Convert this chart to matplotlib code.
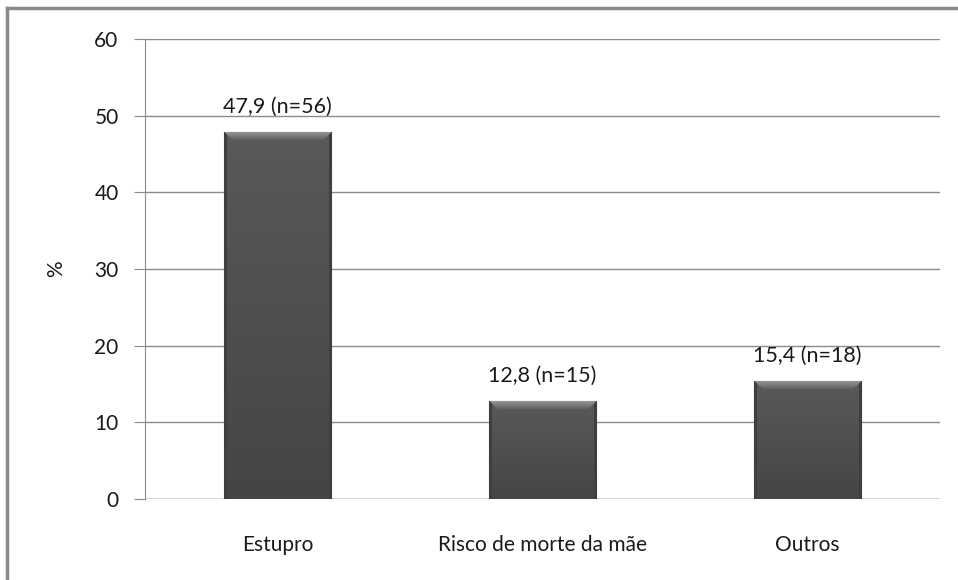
import numpy as np
import matplotlib.pyplot as plt
from matplotlib.lines import Line2D

categories = ['Estupro', 'Risco de morte da mãe', 'Outros']
percent = [47.9, 12.8, 15.4]
counts = [56, 15, 18]
yticks = [0, 10, 20, 30, 40, 50, 60]

plt.rcParams['font.family'] = ['Lato', 'DejaVu Sans']

fig = plt.figure(figsize=(9.58, 5.80), dpi=100)
ax = fig.add_axes([145 / 958, 1 - 499 / 580, 795 / 958, 460 / 580])

x = np.arange(len(categories))
bars = ax.bar(x, percent, width=0.405, color='#4a4a4a', edgecolor='#3a3a3a', linewidth=0.8, zorder=3)

px_per_unit = 460 / 60


def bevel_image(h_units, w_px=108):
    h_px = max(int(round(h_units * px_per_unit)), 10)
    rows = np.arange(h_px)[:, None]      # 0 = top
    cols = np.arange(w_px)[None, :]
    # body: slightly lighter near top, darker near bottom
    body = 0.35 - 0.08 * (rows / h_px)
    img = np.broadcast_to(body, (h_px, w_px)).copy()
    # top bevel strip (trapezoid)
    bev = 9
    dist_side = np.minimum(cols, w_px - 1 - cols)
    top = (rows < bev) & (dist_side >= rows)
    img[top] = (0.60 - 0.24 * (rows / bev) + 0 * cols)[top]
    # dark side edges
    side = (dist_side < 3) & ~top
    img[side] = 0.25
    img = np.clip(img, 0, 1)
    return np.dstack([img, img, img])


for b in bars:
    bx, by = b.get_x(), b.get_y()
    w, h = b.get_width(), b.get_height()
    im = ax.imshow(bevel_image(h), extent=[bx, bx + w, by, by + h], aspect='auto',
                   interpolation='bilinear', zorder=3.5)
    im.set_clip_path(b)

for xi, p, n in zip(x, percent, counts):
    ax.text(xi, p + 2.0, f"{p:.1f}".replace('.', ',') + f" (n={n})", ha='center', va='bottom',
            fontsize=15.5, color='#1a1a1a')

ax.set_xlim(-0.5, 2.5)
ax.set_ylim(0, 60)
ax.set_yticks(yticks)
ax.set_xticks(x)
ax.set_xticklabels(categories)
ax.yaxis.grid(True, color='#8c8c8c', linewidth=1)
ax.set_axisbelow(True)
for s in ['top', 'right', 'bottom']:
    ax.spines[s].set_visible(False)
ax.spines['left'].set_color('#8c8c8c')
ax.axhline(0, color='#8c8c8c', linewidth=1, zorder=2)
ax.tick_params(axis='y', length=8, color='#8c8c8c', labelsize=15, pad=11, labelcolor='#1a1a1a')
ax.tick_params(axis='x', length=0, labelsize=15, pad=26, labelcolor='#1a1a1a')
ax.set_ylabel('%', fontsize=15, labelpad=20, color='#1a1a1a')

# outer chart border (only top and left visible)
fig.add_artist(Line2D([7 / 958, 7 / 958], [0, 1 - 8 / 580], color='#8a8a8a', linewidth=2.5))
fig.add_artist(Line2D([7 / 958, 1], [1 - 8 / 580, 1 - 8 / 580], color='#8a8a8a', linewidth=2.5))

fig.savefig('out.png', dpi=100)
